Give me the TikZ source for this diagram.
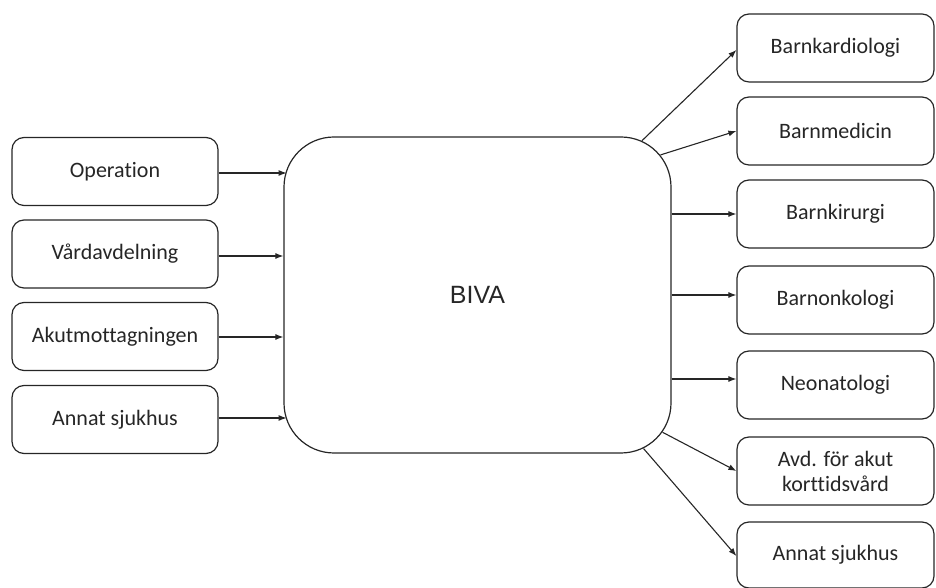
\documentclass[tikz,border=0pt]{standalone}
\usepackage{fontspec}
\setmainfont{Carlito}[Ligatures=NoCommon]
\newfontfamily\arialfont{Liberation Sans}
\usetikzlibrary{arrows.meta,calc}
\definecolor{ink}{HTML}{262626}
\begin{document}
\begin{tikzpicture}[x=1pt,y=1pt,
  box/.style={draw=ink,line width=1.2pt,rounded corners=12pt,minimum width=206pt,minimum height=68pt,inner sep=0pt,font=\fontsize{22}{25}\selectfont,text=ink,align=center},
  rbox/.style={box,minimum width=197pt},
  arr/.style={draw=ink,line width=1.1pt,-{Latex[length=8pt,width=6pt]}}]
\useasboundingbox (0,0) rectangle (936,588);
% centre
\node[draw=ink,line width=1.2pt,rounded corners=50pt,minimum width=387pt,minimum height=316pt,inner sep=0pt,font=\arialfont\fontsize{25}{29}\selectfont,text=ink] (biva) at (477.5,293) {BIVA};
% left boxes
\node[box] (op)   at (115,416.5) {Operation};
\node[box] (vard) at (115,334) {Vårdavdelning};
\node[box] (akut) at (115,251.5) {Akutmottagningen};
\node[box] (ann)  at (115,168.5) {Annat sjukhus};
% right boxes
\node[rbox] (kard) at (835.5,540) {Barnkardiologi};
\node[rbox] (med)  at (835.5,457) {Barnmedicin};
\node[rbox] (kir)  at (835.5,374) {Barnkirurgi};
\node[rbox] (onk)  at (835.5,288) {Barnonkologi};
\node[rbox] (neo)  at (835.5,203) {Neonatologi};
\node[rbox] (avd)  at (835.5,117) {Avd. för akut\\korttidsvård};
\node[rbox,minimum height=66pt] (ann2) at (835.5,33) {Annat sjukhus};
% arc points on BIVA
\coordinate (tr) at ($(biva.north east)+(-50,-50)$);
\coordinate (br) at ($(biva.south east)+(-50,50)$);
\coordinate (p1) at ($(tr)+(66:50)$);
\coordinate (p2) at ($(tr)+(39:50)$);
\coordinate (p6) at ($(br)+(-35:50)$);
\coordinate (p7) at ($(br)+(-64:50)$);
\coordinate (q1) at ($(op.east)+(68,-1.5)$);
\coordinate (q4) at ($(ann.east)+(68,1.5)$);
% incoming
\draw[arr] ($(op.east)+(0,-1.5)$) -- (q1);
\draw[arr] ($(vard.east)+(0,-2)$) -- ($(biva.west|-vard.east)+(0,-2)$);
\draw[arr] ($(akut.east)+(0,-0.5)$) -- ($(biva.west|-akut.east)+(0,-0.5)$);
\draw[arr] ($(ann.east)+(0,1.5)$) -- (q4);
% outgoing
\draw[arr] (p1) -- ($(kard.west)+(0,-2)$);
\draw[arr] (p2) -- (med.west);
\draw[arr] (biva.east|-kir.west) -- (kir.west);
\draw[arr] ($(biva.east|-onk.west)+(0,5)$) -- ($(onk.west)+(0,5)$);
\draw[arr] ($(biva.east|-neo.west)+(0,6)$) -- ($(neo.west)+(0,6)$);
\draw[arr] (p6) -- (avd.west);
\draw[arr] (p7) -- ($(ann2.west)+(0,-1)$);
\end{tikzpicture}
\end{document}
